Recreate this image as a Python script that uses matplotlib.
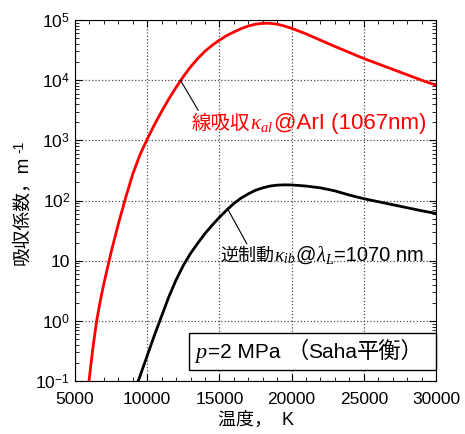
import numpy as np
import matplotlib
matplotlib.use("Agg")
import matplotlib.pyplot as plt
from matplotlib.patches import Rectangle
from matplotlib.transforms import IdentityTransform
from matplotlib.ticker import MultipleLocator, LogLocator, FixedLocator, FuncFormatter, NullFormatter

FAM = ['Liberation Sans', 'Noto Sans CJK JP']
plt.rcParams['font.family'] = FAM
plt.rcParams['mathtext.fontset'] = 'custom'
plt.rcParams['mathtext.rm'] = 'Liberation Sans'
plt.rcParams['mathtext.sf'] = 'Liberation Sans'
plt.rcParams['mathtext.it'] = 'Liberation Serif:italic'

# line absorption of ArI (1067 nm): temperature [K], log10 of absorption coefficient [1/m]
T_line = [5970, 6100, 6250, 6500, 6750, 7000, 7500, 8000, 8500, 9000, 9500, 10000,
          10500, 11000, 11500, 12000, 12500, 13000, 13500, 14000, 14500, 15000,
          15500, 16000, 16500, 17000, 17500, 18000, 18500, 19000, 19500, 20000,
          21000, 22000, 23000, 24000, 25000, 26000, 27000, 28000, 29000, 30000]
logk_line = [-1.0, -0.73, -0.43, 0.0, 0.33, 0.62, 1.14, 1.61, 2.04, 2.44, 2.76, 3.02,
             3.26, 3.48, 3.69, 3.88, 4.06, 4.22, 4.36, 4.48, 4.58, 4.665,
             4.74, 4.8, 4.855, 4.9, 4.93, 4.945, 4.945, 4.93, 4.9, 4.862,
             4.77, 4.665, 4.56, 4.46, 4.36, 4.27, 4.18, 4.09, 4.0, 3.917]

# inverse bremsstrahlung at 1070 nm
T_ib = [9380, 9500, 10000, 10500, 11000, 11500, 12000, 12500, 13000, 13500, 14000,
        14500, 15000, 15500, 16000, 16500, 17000, 17500, 18000, 18500, 19000, 19500,
        20000, 20500, 21000, 22000, 23000, 24000, 25000, 26000, 27000, 28000, 29000, 30000]
logk_ib = [-1.0, -0.92, -0.58, -0.24, 0.08, 0.4, 0.68, 0.92, 1.12, 1.29, 1.45,
           1.59, 1.72, 1.84, 1.95, 2.04, 2.11, 2.17, 2.21, 2.24, 2.255, 2.26,
           2.258, 2.25, 2.24, 2.21, 2.16, 2.09, 2.03, 1.98, 1.93, 1.88, 1.83, 1.785]

yticks = [0.1, 1, 10, 100, 1e3, 1e4, 1e5]
ytick_labels = ['$10^{-1}$', '$10^{0}$', '10', '$10^{2}$', '$10^{3}$', '$10^{4}$', '$10^{5}$']
xticks = [5000, 10000, 15000, 20000, 25000, 30000]

k_line = 10 ** np.array(logk_line)
k_ib = 10 ** np.array(logk_ib)

fig = plt.figure(figsize=(4.65, 4.34), dpi=100)
ax = fig.add_axes([75/465, 1-381/434, 361/465, 361/434])
renderer = fig.canvas.get_renderer()

ax.plot(T_line, k_line, color='red', lw=2)
ax.plot(T_ib, k_ib, color='black', lw=2)

ax.set_yscale('log')
ax.set_xlim(5000, 30000)
ax.set_ylim(0.1, 1e5)

ax.xaxis.set_major_locator(FixedLocator(xticks))
ax.xaxis.set_minor_locator(MultipleLocator(1000))
ax.yaxis.set_major_locator(FixedLocator(yticks))
ax.yaxis.set_minor_locator(LogLocator(base=10, subs=np.arange(2, 10)))
ax.yaxis.set_minor_formatter(NullFormatter())
ax.yaxis.set_major_formatter(FuncFormatter(
    lambda v, p: ytick_labels[int(np.argmin([abs(np.log10(t) - np.log10(v)) for t in yticks]))]))

ax.tick_params(which='both', direction='in', top=True, right=True, labelsize=12.5)
ax.tick_params(which='major', length=5, width=0.8)
ax.tick_params(which='minor', length=3, width=0.6)
ax.tick_params(axis='x', pad=8)

ax.grid(True, which='major', linestyle=':', color='0.3', lw=0.9)

ax.set_xlabel('温度，  K', fontsize=13, labelpad=3)
ylab = ax.set_ylabel('吸収係数，m', fontsize=13.5, labelpad=3)
ax.yaxis.label.set_y(0.474)


def chain(x, y, pieces, **kw):
    # place (text, fontsize) pieces one after another on a common baseline (pixel coords)
    texts = []
    for s, size in pieces:
        t = fig.text(x, y, s, transform=IdentityTransform(), ha='left', va='baseline',
                     fontsize=size, **kw)
        x += t.get_window_extent(renderer).width
        texts.append(t)
    return texts


# red label (line absorption)
chain(192, 434 - 129, [('線吸収', 14), (r'$\kappa_{al}$', 15), ('@ArI (1067nm)', 16)], color='red')
ax.plot([12300, 13530], [1e4, 10 ** 3.5], color='black', lw=0.8)

# black label (inverse bremsstrahlung)
chain(220, 434 - 261, [('逆制動', 13), (r'$\kappa_{ib}$', 14), ('@', 14.5), (r'$\lambda_L$', 14.5),
                       ('=1070 nm', 14.5)], color='black')
ax.plot([15550, 16900], [10 ** 1.87, 10 ** 1.28], color='black', lw=0.8)

# condition box
fig.patches.append(Rectangle((189, 434 - 370), 247, 37, transform=IdentityTransform(),
                             facecolor='white', edgecolor='black', lw=1, zorder=2))
box_texts = chain(194, 434 - 358, [('$p$', 16), ('=2 MPa ', 15), ('（', 16), ('Saha', 15),
                                   ('平衡）', 16)], color='black', zorder=3)

# superscript of the y label unit
fig.canvas.draw()
yb = ylab.get_window_extent(renderer)
fig.text(yb.x0 - 1, yb.y1 + 2, '-1', transform=IdentityTransform(), rotation=90,
         ha='left', va='bottom', fontsize=10)

fig.savefig('out.png', dpi=100)
